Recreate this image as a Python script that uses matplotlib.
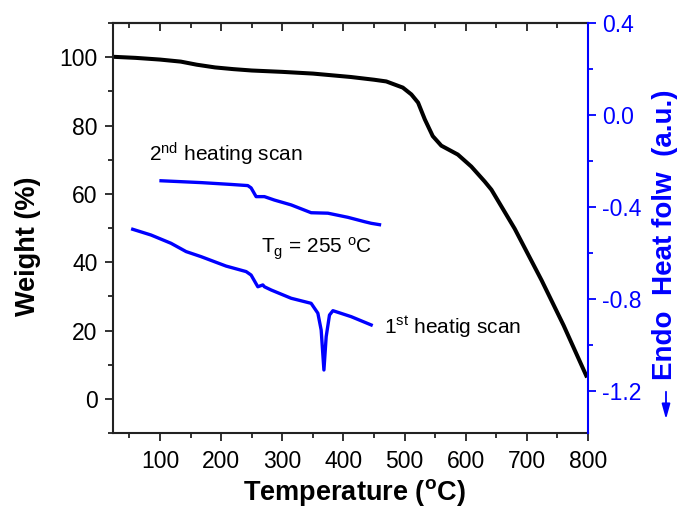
import matplotlib
matplotlib.use("Agg")
import matplotlib.pyplot as plt
from matplotlib.patches import FancyArrowPatch
from matplotlib.ticker import MultipleLocator, FormatStrFormatter

plt.rcParams['font.family'] = ['Liberation Sans', 'DejaVu Sans']

# TGA curve (left axis)
tga_temp = [25, 60, 100, 134, 160, 190, 220, 250, 300, 350, 412, 450, 470, 497, 511,
            522, 533, 546, 560, 587, 609, 631, 642, 680, 724, 760, 797]
tga_weight = [100.1, 99.8, 99.3, 98.7, 97.8, 97.0, 96.5, 96.1, 95.7, 95.2, 94.2, 93.4,
              92.9, 91.1, 89.1, 86.7, 81.8, 76.9, 74.1, 71.5, 68.0, 63.6, 61.2, 49.8,
              34.7, 21.5, 6.8]

# DSC 2nd heating scan (right axis)
dsc2_temp = [101.6, 167.1, 216.2, 243.5, 248.9, 257.1, 270.7, 287.1, 314.4, 347.1,
             374.5, 407.2, 434.4, 445.3, 458.9]
dsc2_heat = [-0.286, -0.294, -0.302, -0.307, -0.317, -0.355, -0.355, -0.370, -0.391,
             -0.425, -0.427, -0.445, -0.464, -0.471, -0.477]

# DSC 1st heating scan (right axis)
dsc1_temp = [55.3, 85.3, 118.0, 142.6, 167.1, 208.0, 240.8, 248.9, 259.9, 268.1, 270.7,
             281.7, 314.4, 347.1, 358.1, 363.5, 368.0, 371.7, 377.1, 382.7, 412.6, 445.3]
dsc1_heat = [-0.497, -0.522, -0.558, -0.594, -0.616, -0.657, -0.681, -0.696, -0.747,
             -0.739, -0.747, -0.761, -0.797, -0.819, -0.862, -0.935, -1.109, -0.964,
             -0.870, -0.851, -0.877, -0.913]

blue = '#0000ff'
dark = '#222222'

fig = plt.figure(figsize=(6.83, 5.08), dpi=100)
ax = fig.add_axes([0.1654, 0.1476, 0.6956, 0.8071])
ax2 = ax.twinx()

ax.plot(tga_temp, tga_weight, color='black', lw=2.9, solid_joinstyle='round')
ax2.plot(dsc2_temp, dsc2_heat, color=blue, lw=2.4, solid_joinstyle='round')
ax2.plot(dsc1_temp, dsc1_heat, color=blue, lw=2.4, solid_joinstyle='round')

ax.set_xlim(23, 800)
ax.set_ylim(-10, 110)
ax2.set_ylim(-1.383, 0.4)

ax.xaxis.set_major_locator(MultipleLocator(100))
ax.xaxis.set_minor_locator(MultipleLocator(50))
ax.yaxis.set_major_locator(MultipleLocator(20))
ax.yaxis.set_minor_locator(MultipleLocator(10))
ax2.yaxis.set_major_locator(MultipleLocator(0.4))
ax2.yaxis.set_minor_locator(MultipleLocator(0.2))
ax2.yaxis.set_major_formatter(FormatStrFormatter('%.1f'))

for sp in ['left', 'bottom', 'top']:
    ax.spines[sp].set_linewidth(1.5)
    ax.spines[sp].set_color(dark)
ax.spines['right'].set_visible(False)
ax2.spines['right'].set_color(blue)
ax2.spines['right'].set_linewidth(1.5)
for sp in ['left', 'bottom', 'top']:
    ax2.spines[sp].set_visible(False)

ax.tick_params(axis='both', which='major', labelsize=16.5, length=6, width=1.3,
               color=dark, direction='out')
ax.tick_params(axis='both', which='minor', length=3.5, width=1.3, color=dark,
               direction='out')
ax.tick_params(axis='x', which='major', pad=6)
ax.tick_params(axis='y', which='major', pad=5)

# inward ticks along the top edge
top = ax.secondary_xaxis('top')
top.xaxis.set_major_locator(MultipleLocator(100))
top.xaxis.set_minor_locator(MultipleLocator(50))
top.tick_params(which='major', direction='in', length=6, width=1.3, color=dark,
                labeltop=False)
top.tick_params(which='minor', direction='in', length=3.5, width=1.3, color=dark)
top.spines['top'].set_linewidth(1.5)
top.spines['top'].set_color(dark)

ax2.tick_params(axis='y', which='major', labelsize=16.5, length=6, width=1.3,
                color=blue, labelcolor=blue, direction='out', pad=4)
ax2.tick_params(axis='y', which='minor', length=3.5, width=1.3, color=blue,
                direction='out')

fig.text(354 / 683, 1 - 493 / 508, 'Temperature ($\\mathregular{^o}$C)', fontsize=19.5,
         fontweight='bold', ha='center', va='center')
fig.text(28 / 683, 1 - 246 / 508, 'Weight (%)', fontsize=19.5, fontweight='bold',
         rotation=90, ha='center', va='center')

ax.text(82, 71.5, '2$\\mathregular{^{nd}}$ heating scan', fontsize=15, va='center')
ax.text(265, 44, 'T$\\mathregular{_g}$ = 255 $\\mathregular{^o}$C', fontsize=15,
        va='center')
ax.text(466, 21, '1$\\mathregular{^{st}}$ heatig scan', fontsize=15, va='center')

fig.text(665 / 683, 1 - 235 / 508, 'Endo  Heat folw  (a.u.)', rotation=90,
         fontsize=20, fontweight='bold', color=blue, ha='center', va='center')
fig.patches.append(FancyArrowPatch(
    (666 / 683, 1 - 389 / 508), (666 / 683, 1 - 422 / 508),
    transform=fig.transFigure, arrowstyle='-|>,head_length=9,head_width=2.5',
    color=blue, lw=1.3, mutation_scale=1))

fig.savefig('out.png', dpi=100)
